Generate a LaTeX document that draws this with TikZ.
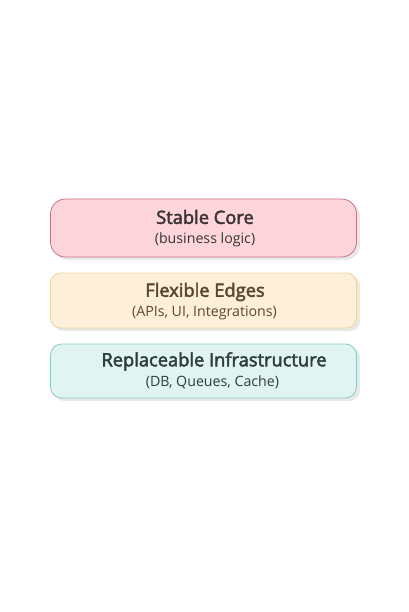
\documentclass[tikz,border=0pt]{standalone}
\usepackage{fontspec}
\setmainfont{Open Sans}
\newfontfamily\titlefont{Open Sans}[FakeBold=2.6]
\definecolor{corefill}{HTML}{FDD5DB}
\definecolor{coredraw}{HTML}{C97283}
\definecolor{edgefill}{HTML}{FDEFD9}
\definecolor{edgedraw}{HTML}{EDD49F}
\definecolor{infrafill}{HTML}{E0F4F1}
\definecolor{infradraw}{HTML}{8EC8BF}
\definecolor{coretext}{HTML}{3A3436}
\definecolor{edgetext}{HTML}{574832}
\definecolor{infratext}{HTML}{2F3C3C}
\definecolor{shadowc}{HTML}{E8E8E8}
\begin{document}
\begin{tikzpicture}[x=1pt,y=-1pt,
  layer/.style={draw, line width=0.8pt, minimum width=306pt, inner sep=0pt},
  title/.style={font=\titlefont\fontsize{18.3}{21}\selectfont, inner sep=0pt},
  sub/.style={font=\fontsize{14.2}{16}\selectfont, inner sep=0pt}]
\useasboundingbox (0,0) rectangle (408,612);
% shadows
\fill[shadowc, rounded corners=15pt] (53.5,201.5) rectangle (360,260);
\fill[shadowc, rounded corners=10pt] (53.5,275.5) rectangle (360,331);
\fill[shadowc, rounded corners=11pt] (53.5,346.5) rectangle (360,401);
% boxes
\node[layer, fill=corefill, draw=coredraw, rounded corners=15pt, minimum height=58pt] (core) at (203.5,228) {};
\node[layer, fill=edgefill, draw=edgedraw, rounded corners=10pt, minimum height=55pt] (edges) at (203.5,300.5) {};
\node[layer, fill=infrafill, draw=infradraw, rounded corners=11pt, minimum height=54pt] (infra) at (203.5,371) {};
% texts
\node[title, text=coretext] (coret) at (205,217) {Stable Core};
\node[sub, text=coretext] (cores) at (205,239.5) {(business logic)};
\node[title, text=edgetext] (edgest) at (205,292) {Flexible Edges};
\node[sub, text=edgetext] (edgess) at (204.5,313) {(APIs, UI, Integrations)};
\node[title, text=infratext] (infrat) at (214,361.5) {Replaceable Infrastructure};
\node[sub, text=infratext] (infras) at (212.5,382.5) {(DB, Queues, Cache)};
\end{tikzpicture}
\end{document}
